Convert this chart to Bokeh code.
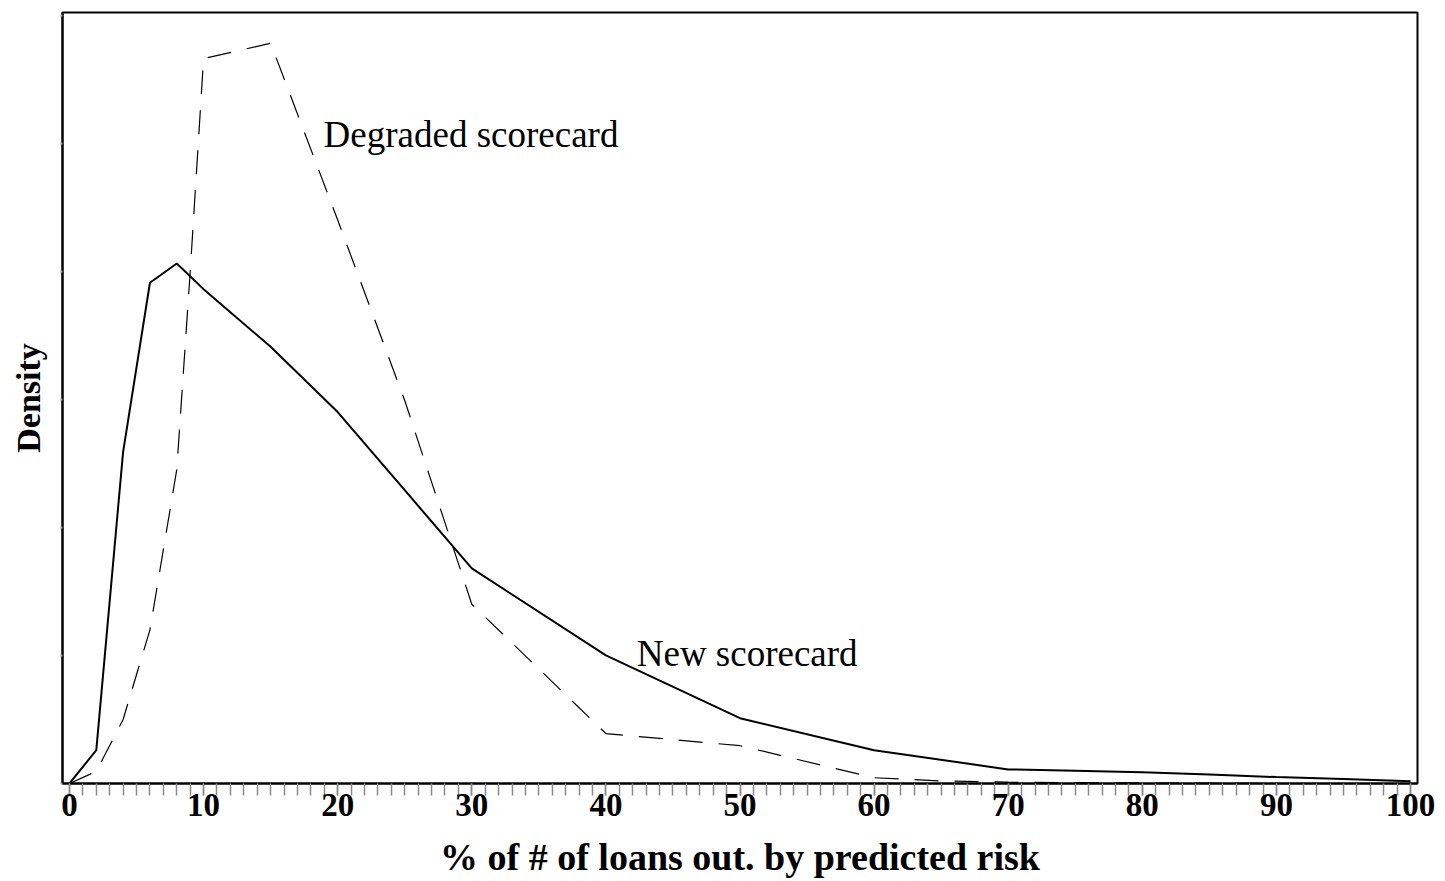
from bokeh.plotting import figure
from bokeh.models import Range1d, FixedTicker, Label
from bokeh.embed import file_html
from bokeh.resources import INLINE

# Data (percent of loans out vs density)
x_new = [0, 2, 4, 6, 8, 10, 15, 20, 25, 30, 40, 50, 60, 70, 75, 80, 85, 90, 95, 100]
y_new = [0.0, 0.0026, 0.0259, 0.0391, 0.0406, 0.0386, 0.0341, 0.0290, 0.0229, 0.0168,
         0.0100, 0.0051, 0.0026, 0.0011, 0.0010, 0.00087, 0.0007, 0.0005, 0.00035, 0.00017]

x_deg = [0, 2, 4, 6, 8, 9, 10, 15, 20, 25, 30, 40, 50, 60, 65, 70, 80, 90, 100]
y_deg = [0.0, 0.00094, 0.0050, 0.0120, 0.0245, 0.0399, 0.0566, 0.0578, 0.0440, 0.0299,
         0.0140, 0.0039, 0.00295, 0.00045, 0.0002, 0.0001, 0.00004, 0.0, 0.0]

x_major = [0, 10, 20, 30, 40, 50, 60, 70, 80, 90, 100]
x_minor = list(range(0, 101))
y_major = [0.0, 0.01, 0.02, 0.03, 0.04, 0.05, 0.06]

labels = {"Degraded scorecard": (18.95, 0.05068), "New scorecard": (42.3, 0.01013)}
x_title = "% of # of loans out. by predicted risk"
y_title = "Density"

SERIF = "Liberation Serif"

p = figure(width=1445, height=881, output_backend="svg", toolbar_location=None,
           x_range=Range1d(-0.52, 100.52), y_range=Range1d(0, 0.0602),
           min_border_left=62, min_border_right=28, min_border_top=12, min_border_bottom=98)
p.grid.visible = False
p.background_fill_color = "white"
p.border_fill_color = "white"
p.outline_line_color = "black"
p.outline_line_width = 2

p.line(x_new, y_new, line_color="black", line_width=2)
p.line(x_deg, y_deg, line_color="black", line_width=1.2, line_dash="24 16")

for txt, (lx, ly) in labels.items():
    p.add_layout(Label(x=lx, y=ly, text=txt, text_font=SERIF, text_font_size="37px",
                       text_color="black", text_baseline="alphabetic", text_align="left"))

xa = p.xaxis[0]
xa.ticker = FixedTicker(ticks=x_major, minor_ticks=x_minor)
xa.axis_line_color = "black"
xa.axis_line_width = 2
xa.major_tick_out = 12
xa.major_tick_in = 0
xa.minor_tick_out = 12
xa.minor_tick_in = 0
xa.major_tick_line_color = "#8a8a8a"
xa.minor_tick_line_color = "#8a8a8a"
xa.major_tick_line_width = 1.5
xa.minor_tick_line_width = 1.5
xa.major_label_text_font = SERIF
xa.major_label_text_font_style = "bold"
xa.major_label_text_font_size = "33px"
xa.major_label_text_color = "black"
xa.major_label_standoff = -2
xa.axis_label = x_title
xa.axis_label_text_font = SERIF
xa.axis_label_text_font_style = "bold"
xa.axis_label_text_font_size = "38px"
xa.axis_label_text_color = "black"
xa.axis_label_standoff = 17

ya = p.yaxis[0]
ya.ticker = FixedTicker(ticks=y_major, minor_ticks=[])
ya.axis_line_color = "black"
ya.axis_line_width = 2
ya.major_tick_out = 2
ya.major_tick_in = 0
ya.major_tick_line_color = "#9a9a9a"
ya.major_tick_line_width = 2
ya.minor_tick_out = 0
ya.minor_tick_in = 0
ya.major_label_overrides = {t: "" for t in y_major}
ya.major_label_standoff = 0
ya.axis_label = y_title
ya.axis_label_text_font = SERIF
ya.axis_label_text_font_style = "bold"
ya.axis_label_text_font_size = "34px"
ya.axis_label_text_color = "black"
ya.axis_label_standoff = 14

open("out.html", "w").write(file_html(p, INLINE))
